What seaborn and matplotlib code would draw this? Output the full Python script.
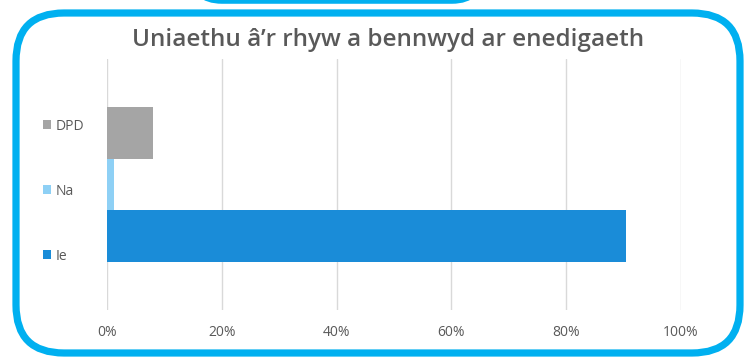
import matplotlib
matplotlib.use("Agg")
import matplotlib.pyplot as plt
from matplotlib.patches import FancyBboxPatch
import seaborn as sns
import pandas as pd

# data
series = ["DPD", "Na", "Ie"]
values = [8.0, 1.2, 90.5]
colors = ["#A5A5A5", "#8ED0F5", "#1A8CD8"]
xticks = [0, 20, 40, 60, 80, 100]
xtick_labels = ["0%", "20%", "40%", "60%", "80%", "100%"]
title = "Uniaethu â\u2019r rhyw a bennwyd ar enedigaeth"

df = pd.DataFrame({"cat": ["all"] * 3, "series": series, "value": values})

sns.set_theme(style="white")
plt.rcParams["font.family"] = ["Open Sans", "DejaVu Sans"]

W, H = 748, 361
fig = plt.figure(figsize=(W / 100, H / 100), dpi=100)
fig.patch.set_facecolor("white")

ax = fig.add_axes([107 / W, (H - 310) / H, 574 / W, 251 / H])
sns.barplot(data=df, x="value", y="cat", hue="series", hue_order=series,
            palette=colors, orient="h", width=0.62, ax=ax, saturation=1,
            linewidth=0, legend=True)
ax.set_xlim(0, 100)
ax.set_ylim(0.5, -0.5)
ax.set_xticks(xticks)
ax.set_xticklabels(xtick_labels, color="#595959", fontsize=10)
ax.set_yticks([])
ax.set_xlabel("")
ax.set_ylabel("")
ax.grid(axis="x", color="#D9D9D9", linewidth=1)
ax.set_axisbelow(True)
for s in ax.spines.values():
    s.set_visible(False)
ax.tick_params(axis="x", length=0, pad=11)

handles, labels = ax.get_legend_handles_labels()
ax.legend(handles, labels, loc="center left",
          bbox_to_anchor=(36 / W, 1 - 191 / H), bbox_transform=fig.transFigure,
          frameon=False, handlelength=0.55, handleheight=0.55, handletextpad=0.35,
          labelspacing=3.6, fontsize=10, labelcolor="#595959", borderpad=0)

fig.text(388 / W, 1 - 40 / H, title, ha="center", va="center",
         fontsize=17.5, fontweight="semibold", color="#595959")

# decorative frame
ov = fig.add_axes([0, 0, 1, 1], zorder=10)
ov.set_xlim(0, W)
ov.set_ylim(H, 0)
ov.axis("off")
ov.patch.set_alpha(0)
frame = FancyBboxPatch((16, 13), 724, 340,
                       boxstyle="round,pad=0,rounding_size=48",
                       fill=False, edgecolor="#00B0F0", linewidth=5.2)
ov.add_patch(frame)
top = FancyBboxPatch((192, -60), 290, 61,
                     boxstyle="round,pad=0,rounding_size=30",
                     fill=False, edgecolor="#00B0F0", linewidth=4)
ov.add_patch(top)

fig.savefig("out.png", dpi=100)
